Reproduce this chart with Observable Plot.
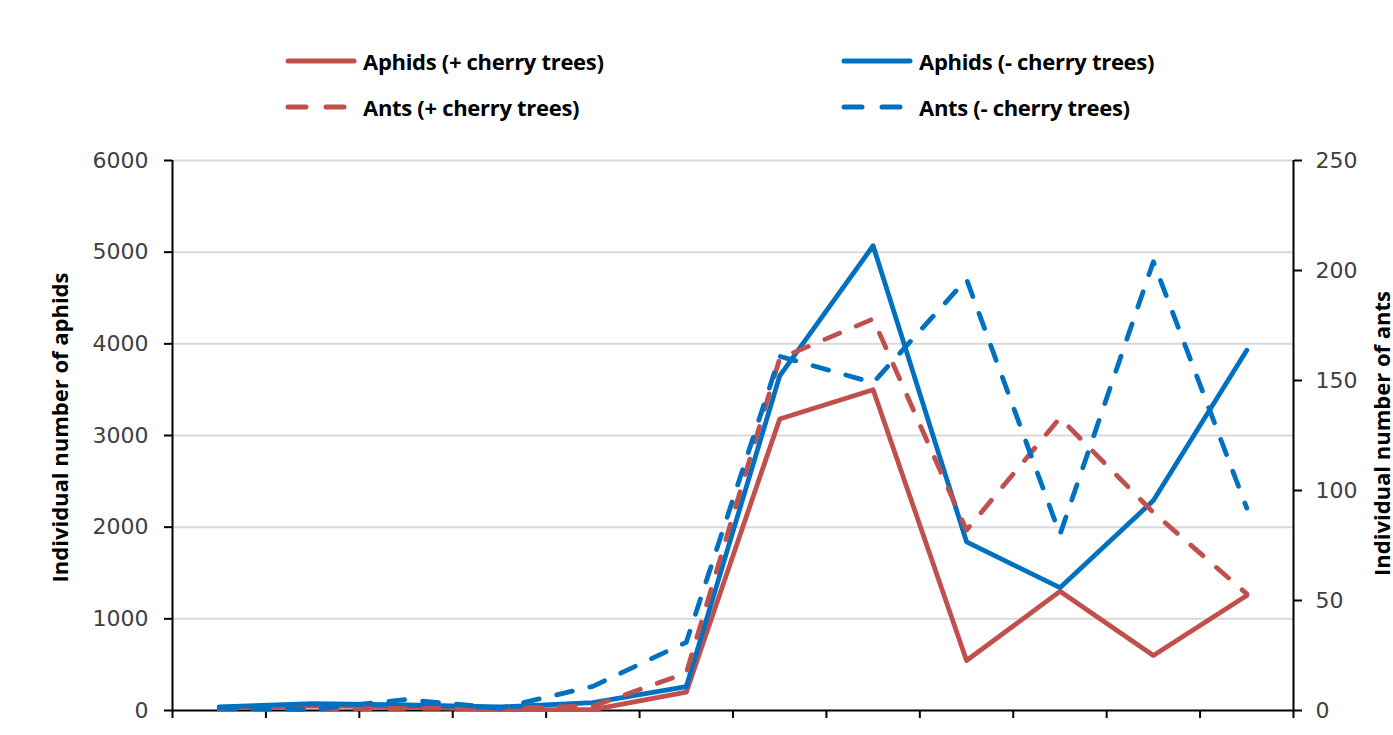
<!DOCTYPE html>
<html><head><meta charset="utf-8">
<script src="https://cdn.jsdelivr.net/npm/d3@7"></script>
<script src="https://cdn.jsdelivr.net/npm/@observablehq/plot@0.6"></script>
<style>
body{margin:0;background:#fff;}
#legend{position:relative;width:1393px;height:135px;font-family:"Open Sans",sans-serif;font-weight:700;font-size:22px;color:#000;}
.item{position:absolute;display:flex;align-items:center;height:30px;}
.item span{margin-left:6px;white-space:nowrap;letter-spacing:-0.3px;}
</style></head><body>
<div id="legend"></div>
<div id="chart"></div>
<script>
// Sampling occasions (x-axis labels are not visible in the reference)
const samplings = [1, 2, 3, 4, 5, 6, 7, 8, 9, 10, 11, 12];
// Individual number of aphids (left axis)
const aphidsPlus  = [30, 50, 40, 10, 10, 200, 3180, 3500, 545, 1300, 600, 1255];
const aphidsMinus = [40, 74, 60, 38, 85, 260, 3650, 5070, 1840, 1340, 2290, 3930];
// Individual number of ants (right axis)
const antsPlus  = [0.5, 0.5, 1, 1, 2, 17, 160, 178, 82, 133, 90, 53];
const antsMinus = [1, 0.5, 5, 1, 11, 31, 161, 149, 196, 80, 204, 92];
// Axis ticks
const leftTicks = [0, 1000, 2000, 3000, 4000, 5000, 6000];
const rightTicks = [0, 50, 100, 150, 200, 250];
const seriesNames = ["Aphids (+ cherry trees)", "Aphids (- cherry trees)", "Ants (+ cherry trees)", "Ants (- cherry trees)"];
const seriesColors = ["#c0504d", "#0070c0", "#c0504d", "#0070c0"];
const seriesDashed = [false, false, true, true];
const leftTitle = "Individual number of aphids";
const rightTitle = "Individual number of ants";

const antFactor = 6000 / 250; // right axis maps 0–250 onto 0–6000

const seriesValues = [aphidsPlus, aphidsMinus, antsPlus, antsMinus];
const rows = [];
seriesValues.forEach((vals, i) => {
  vals.forEach((v, j) => rows.push({
    series: seriesNames[i],
    sampling: samplings[j],
    value: v,
    y: i < 2 ? v : v * antFactor
  }));
});

// Legend
const legend = document.getElementById("legend");
const legendPos = [[285, 46], [841, 46], [285, 92], [841, 92]];
seriesNames.forEach((name, i) => {
  const it = document.createElement("div");
  it.className = "item";
  it.style.left = legendPos[i][0] + "px";
  it.style.top = legendPos[i][1] + "px";
  const dash = seriesDashed[i] ? 'stroke-dasharray="18,20"' : "";
  it.innerHTML = `<svg width="72" height="30"><line x1="3" x2="69" y1="15" y2="15" stroke="${seriesColors[i]}" stroke-width="5" stroke-linecap="round" ${dash}/></svg><span>${name}</span>`;
  legend.appendChild(it);
});

const lineMarks = seriesNames.map((name, i) => Plot.line(rows.filter(d => d.series === name), {
  x: "sampling", y: "y",
  stroke: seriesColors[i], strokeWidth: 4.8,
  strokeDasharray: seriesDashed[i] ? "16,18" : null,
  strokeLinecap: "round", strokeLinejoin: "round"
}));

const chart = Plot.plot({
  width: 1393,
  height: 600,
  marginTop: 25,
  marginBottom: 25,
  marginLeft: 172,
  marginRight: 100,
  style: {background: "#fff", overflow: "visible"},
  x: {type: "linear", domain: [0.5, 12.5]},
  y: {domain: [0, 6000]},
  marks: [
    Plot.gridY(leftTicks.filter(d => d > 0), {stroke: "#d9d9d9", strokeOpacity: 1, strokeWidth: 2}),
    Plot.axisY({ticks: leftTicks, tickFormat: d => String(d), tickSize: 8, tickPadding: 16, label: null, fontSize: 22,
      fontFamily: "DejaVu Sans", fill: "#404040", stroke: "#000", strokeWidth: 2}),
    Plot.axisY({anchor: "right", ticks: rightTicks.map(d => d * antFactor), tickFormat: d => String(d / antFactor),
      tickSize: 8, tickPadding: 14, label: null, fontSize: 22,
      fontFamily: "DejaVu Sans", fill: "#404040", stroke: "#000", strokeWidth: 2}),
    Plot.axisX({ticks: d3.range(0.5, 13, 1), tickSize: 8, tickFormat: () => "", label: null,
      stroke: "#000", strokeWidth: 2}),
    Plot.ruleX([0.5, 12.5], {stroke: "#000", strokeWidth: 2}),
    Plot.ruleY([0], {stroke: "#000", strokeWidth: 2}),
    ...lineMarks,
    Plot.text([leftTitle], {frameAnchor: "left", textAnchor: "middle", dx: -112, dy: -8, rotate: -90, fontWeight: "bold",
      fontSize: 22, fontFamily: "Open Sans", fill: "#000"}),
    Plot.text([rightTitle], {frameAnchor: "right", textAnchor: "middle", dx: 89, dy: -2, rotate: -90, fontWeight: "bold",
      fontSize: 22, fontFamily: "Open Sans", fill: "#000"})
  ]
});
document.getElementById("chart").appendChild(chart);
</script>
</body></html>
